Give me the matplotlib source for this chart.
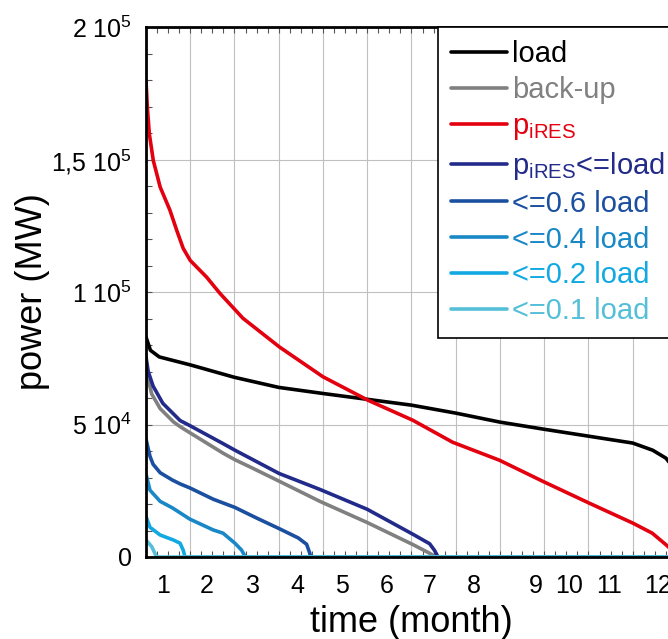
import numpy as np
import matplotlib
matplotlib.use("Agg")
import matplotlib.pyplot as plt
from matplotlib.ticker import MultipleLocator

plt.rcParams['font.family'] = ['Liberation Sans', 'DejaVu Sans']
plt.rcParams['mathtext.fontset'] = 'custom'
plt.rcParams['mathtext.rm'] = 'Liberation Sans'
plt.rcParams['mathtext.it'] = 'Liberation Sans:italic'
plt.rcParams['mathtext.default'] = 'regular'

# duration curves (time in months, power in MW)
load_x = [0, 0.1, 0.3, 1.0, 2.0, 3.0, 4.0, 5.0, 6.0, 7.0, 8.0, 9.0, 10.0, 11.0, 11.45, 11.75, 12.0]
load_y = [83000, 78000, 75500, 72500, 67800, 64000, 61700, 59500, 57300, 54300, 50900, 48200, 45600, 43000, 40300, 37300, 32000]

backup_x = [0, 0.05, 0.13, 0.32, 0.62, 0.77, 1.0, 1.74, 2.01, 2.35, 3.01, 3.93, 5.0, 6.03, 6.4, 6.52, 6.55, 12]
backup_y = [71500, 67000, 61500, 56000, 51000, 49200, 46800, 39200, 36700, 34000, 28600, 21000, 13000, 4700, 1500, 300, 0, 0]

pires_x = [0, 0.03, 0.075, 0.165, 0.32, 0.54, 0.7, 0.84, 1.0, 1.37, 1.67, 2.19, 3.02, 4.0, 5.01, 6.03, 6.93, 7.99, 9.0, 10.02, 11.0, 11.44, 11.76, 12.0]
pires_y = [179700, 169700, 159700, 149600, 139600, 130900, 123000, 116500, 111900, 105600, 99500, 90100, 79200, 68000, 59200, 51600, 43300, 36500, 28300, 20300, 12800, 9000, 4500, 800]

le_load_x = [0, 0.05, 0.16, 0.38, 0.77, 1.0, 1.74, 2.01, 3.01, 3.93, 5.0, 6.03, 6.41, 6.52, 6.6, 12]
le_load_y = [75500, 70000, 64500, 58000, 51500, 49500, 42800, 40300, 31500, 25500, 18000, 8600, 5000, 2500, 0, 0]

le06_x = [0, 0.09, 0.16, 0.32, 0.6, 0.77, 1.0, 1.52, 2.01, 2.5, 3.01, 3.44, 3.63, 3.70, 3.72, 12]
le06_y = [44500, 38000, 35000, 31800, 29000, 27600, 26000, 21800, 18700, 14700, 10700, 7200, 4800, 1500, 0, 0]

le04_x = [0, 0.09, 0.32, 0.6, 0.99, 1.52, 1.74, 2.01, 2.16, 2.23, 2.25, 12]
le04_y = [31300, 25200, 21000, 18500, 14300, 10200, 9000, 5200, 2600, 500, 0, 0]

le02_x = [0, 0.09, 0.32, 0.62, 0.77, 0.84, 0.88, 0.9, 12]
le02_y = [15300, 11200, 8300, 6400, 5200, 2600, 200, 0, 0]

le01_x = [0, 0.13, 0.2, 0.23, 0.24, 12]
le01_y = [6400, 3900, 1400, 100, 0, 0]

series = [
    (load_x, load_y, 'load', 'black'),
    (backup_x, backup_y, 'back-up', '#808080'),
    (pires_x, pires_y, r'p$_{iRES}$', '#e3000f'),
    (le_load_x, le_load_y, r'p$_{iRES}$<=load', '#222a8a'),
    (le06_x, le06_y, '<=0.6 load', '#1b4f9f'),
    (le04_x, le04_y, '<=0.4 load', '#1a88c6'),
    (le02_x, le02_y, '<=0.2 load', '#12a9e2'),
    (le01_x, le01_y, '<=0.1 load', '#55bfd8'),
]

month_pos = [0.38, 1.38, 2.42, 3.41, 4.42, 5.44, 6.41, 7.42, 8.82, 9.57, 10.47, 11.56]
month_labels = ['1', '2', '3', '4', '5', '6', '7', '8', '9', '10', '11', '12']
ytick_vals = [0, 50000, 100000, 150000, 200000]
ytick_labels = ['0', r'5 10$^4$', r'1 10$^5$', r'1,5 10$^5$', r'2 10$^5$']

fig = plt.figure(figsize=(6.68, 6.39), dpi=100)
ax = fig.add_axes([146 / 668, 82 / 639, 531 / 668, 530 / 639])

for x, y, lab, col in series:
    ax.plot(x, y, color=col, lw=2.6, label=lab, solid_capstyle='round',
            solid_joinstyle='round')

ax.set_xlim(0, 12)
ax.set_ylim(0, 200000)

ax.xaxis.set_major_locator(MultipleLocator(1))
ax.xaxis.set_minor_locator(MultipleLocator(0.25))
ax.set_yticks(ytick_vals, ytick_labels)
ax.yaxis.set_minor_locator(MultipleLocator(10000))
ax.grid(True, which='major', color='#c0c0c0', lw=0.8)
ax.set_axisbelow(True)

ax.tick_params(axis='x', which='both', direction='in', top=True, labelbottom=False,
               length=4, width=0.8, color='#555555')
ax.tick_params(axis='y', which='both', direction='in', right=True, length=4,
               width=0.8, color='#555555', labelsize=18, pad=10)
for s in ax.spines.values():
    s.set_linewidth(2.0)

sec = ax.secondary_xaxis('bottom')
sec.set_xticks(month_pos, month_labels)
sec.tick_params(length=0, pad=12, labelsize=18)
sec.spines['bottom'].set_visible(False)
sec.set_xlabel('time (month)', fontsize=26, labelpad=5)

ax.set_ylabel('power (MW)', fontsize=26, labelpad=1)

leg = ax.legend(loc='upper left', bbox_to_anchor=(0.55, 1.0), borderaxespad=0,
                fontsize=21, labelcolor='linecolor', fancybox=False, framealpha=1,
                edgecolor='black', handlelength=1.9, handletextpad=0.2,
                labelspacing=0.27, borderpad=0.45)
leg.get_frame().set_linewidth(1.2)

fig.savefig('out.png', dpi=100)
